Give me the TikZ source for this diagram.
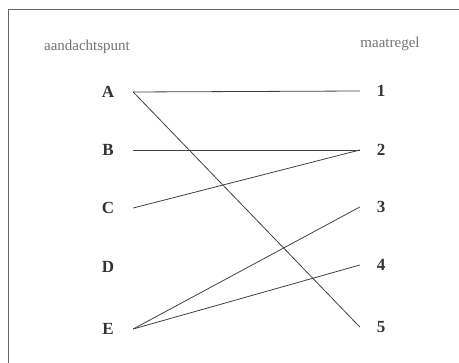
\documentclass[tikz,border=0pt]{standalone}
\usepackage{fontspec}
\setmainfont{Liberation Serif}
\begin{document}
\begin{tikzpicture}[x=1pt,y=-1pt,
    kop/.style={text=black!55, font=\fontsize{15}{15}\selectfont},
    punt/.style={text=black!80, font=\fontsize{17}{17}\selectfont\bfseries, inner sep=0pt},
    lijn/.style={draw=black!75, line width=0.8pt}]
    \useasboundingbox (0,0) rectangle (459,363);
    \draw[black!60, line width=0.8pt] (459,9.5) -- (8.5,9.5) -- (8.5,363);
    \node[kop] (aandacht) at (87,47) {aandachtspunt};
    \node[kop] (maatregel) at (390,44) {maatregel};
    \foreach \l/\y in {A/92, B/150, C/208, D/267, E/329}
        \node[punt, minimum width=50pt] (\l) at (108,\y) {\l};
    \foreach \n/\y in {1/91, 2/150, 3/207, 4/265, 5/327}
        \node[punt, minimum width=42pt] (m\n) at (381,\y) {\n};
    \foreach \a/\b in {A/m1, A/m5, B/m2, C/m2, E/m3, E/m4}
        \draw[lijn] (\a.east) -- (\b.west);
\end{tikzpicture}
\end{document}
